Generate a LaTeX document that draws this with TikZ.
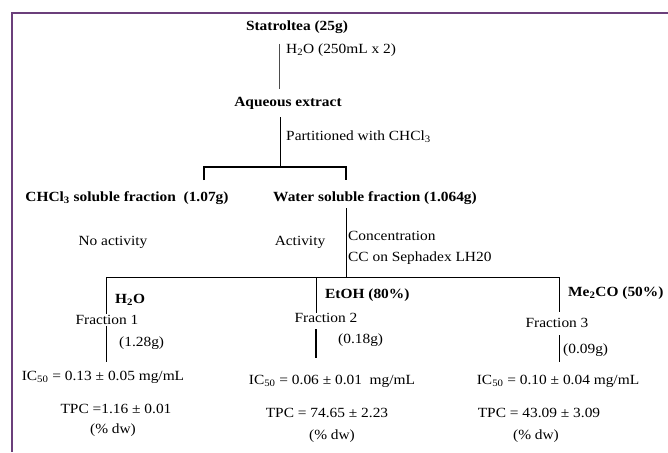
\documentclass[tikz,border=0pt]{standalone}
\usepackage{fontspec}
\setmainfont{Liberation Serif}[FakeStretch=1.1]
\definecolor{framepurple}{HTML}{6B3F7B}
\tikzset{
  lbl/.style={inner sep=0pt, font=\fontsize{14}{16}\selectfont},
  bl/.style={inner sep=0pt, font=\fontsize{14}{16}\selectfont\bfseries},
  conn/.style={draw=black, line width=0.9pt},
  thickconn/.style={draw=black, line width=1.6pt},
  framestyle/.style={draw=framepurple, line width=1.6pt}
}
\begin{document}
\begin{tikzpicture}[x=1pt,y=-1pt]
\useasboundingbox (0,0) rectangle (668,452);
% frame
\coordinate (fr1) at (668,13);
\coordinate (fr2) at (12,13);
\coordinate (fr3) at (12,452);
\draw[framestyle] (fr1) -- (fr2) -- (fr3);

% top
\node[bl] (stat) at (297,27) {Statroltea (25g)};
\coordinate (l1a) at (279,44); \coordinate (l1b) at (279,89);
\draw[conn, draw=black!70] (l1a) -- (l1b);
\node[lbl, anchor=west] (h2oa) at (286,50) {H\textsubscript{2}O (250mL x 2)};

\node[bl] (aq) at (288,103) {Aqueous extract};
\coordinate (l2a) at (280,117); \coordinate (l2b) at (280,167);
\draw[conn] (l2a) -- (l2b);
\node[lbl, anchor=west] (part) at (286,137) {Partitioned with CHCl\textsubscript{3}};

% bracket
\coordinate (bL) at (204,167); \coordinate (bR) at (346,167);
\coordinate (bLd) at (204,180); \coordinate (bRd) at (346,180);
\draw[thickconn, line width=1.3pt] (bLd) -- (bL) -- (bR) -- (bRd);

\node[bl] (chcl) at (127,198) {CHCl\textsubscript{3} soluble fraction\ \ (1.07g)};
\node[bl] (water) at (375,198) {Water soluble fraction (1.064g)};

\coordinate (wv1) at (346,208); \coordinate (wv2) at (346,277);
\draw[conn] (wv1) -- (wv2);
\node[lbl] (noact) at (113,242) {No activity};
\node[lbl] (act) at (300,242) {Activity};
\node[lbl, anchor=west] (conc) at (348,236) {Concentration};
\node[lbl, anchor=west] (cc) at (348,258) {CC on Sephadex LH20};

% horizontal
\coordinate (h1) at (106,277); \coordinate (h2) at (316,277); \coordinate (h3) at (559,277);
\draw[conn] (h1) -- (h3);

% branch 1
\node[bl, anchor=west] (s1) at (115,300) {H\textsubscript{2}O};
\node[lbl, fill=white, inner sep=1pt] (f1) at (107,320) {Fraction 1};
\coordinate (b1b) at (106,362);
\draw[conn] (h1) -- (f1.north -| h1);
\draw[conn] (f1.south -| h1) -- (b1b);
\node[lbl, anchor=west] (m1) at (119,343) {(1.28g)};
\node[lbl] (ic1) at (103,377) {IC\textsubscript{50} = 0.13 ± 0.05 mg/mL};
\node[lbl] (tpc1) at (116,409) {TPC =1.16 ± 0.01};
\node[lbl] (dw1) at (113,430) {(\% dw)};

% branch 2
\node[bl, anchor=west] (s2) at (325,295) {EtOH (80\%)};
\node[lbl, fill=white, inner sep=1pt] (f2) at (326,318) {Fraction 2};
\coordinate (b2a) at (316,313);
\coordinate (b2c) at (316,329); \coordinate (b2b) at (316,358);
\draw[conn] (h2) -- (b2a);
\draw[thickconn] (b2c) -- (b2b);
\node[lbl, anchor=west] (m2) at (338,340) {(0.18g)};
\node[lbl] (ic2) at (332,381) {IC\textsubscript{50} = 0.06 ± 0.01 \ mg/mL};
\node[lbl] (tpc2) at (327,413) {TPC = 74.65 ± 2.23};
\node[lbl] (dw2) at (332,436) {(\% dw)};

% branch 3
\node[bl, anchor=west] (s3) at (568,293) {Me\textsubscript{2}CO (50\%)};
\node[lbl, fill=white, inner sep=1pt] (f3) at (557,323) {Fraction 3};
\coordinate (b3a) at (559,312);
\coordinate (b3c) at (559,335); \coordinate (b3b) at (559,362);
\draw[conn] (h3) -- (b3a);
\draw[conn] (b3c) -- (b3b);
\node[lbl, anchor=west] (m3) at (563,350) {(0.09g)};
\node[lbl] (ic3) at (558,381) {IC\textsubscript{50} = 0.10 ± 0.04 mg/mL};
\node[lbl] (tpc3) at (539,413) {TPC = 43.09 ± 3.09};
\node[lbl] (dw3) at (536,436) {(\% dw)};
\end{tikzpicture}
\end{document}
